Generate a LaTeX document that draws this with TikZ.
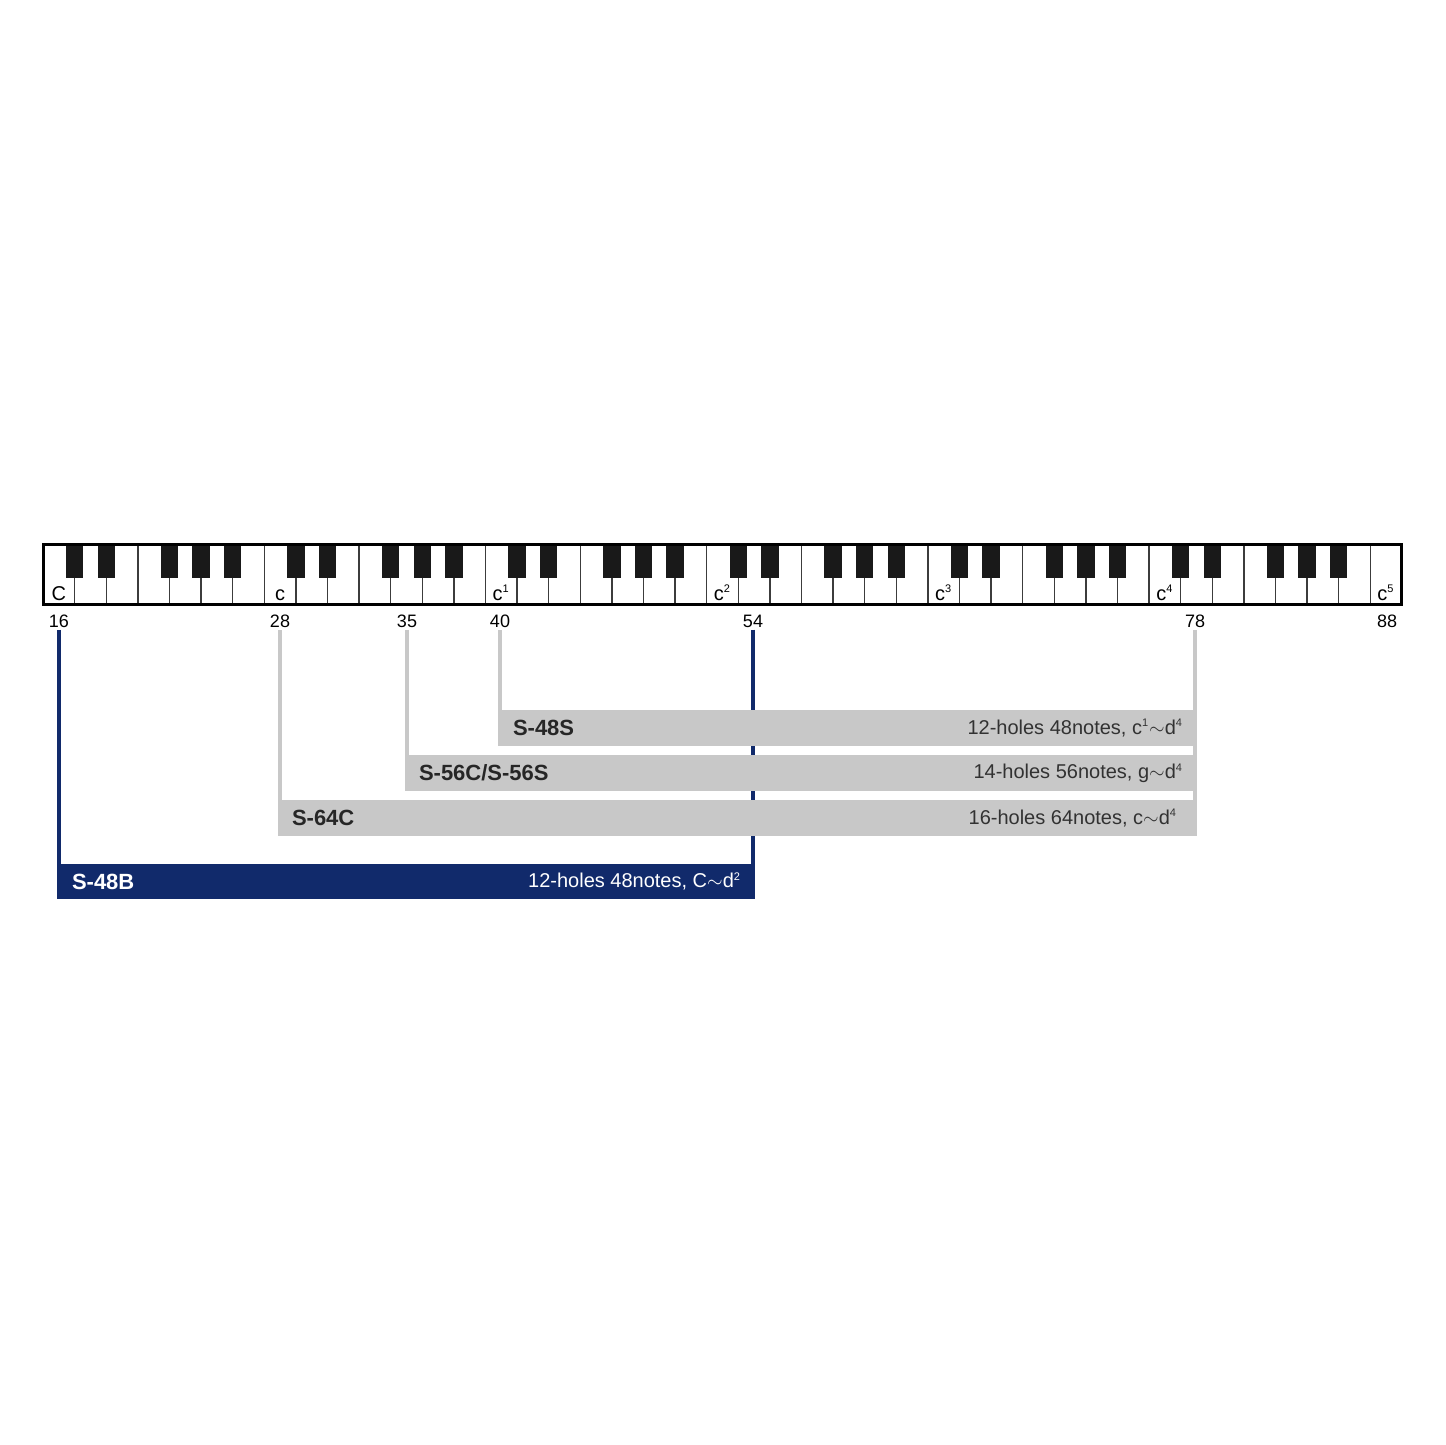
\documentclass[tikz,border=0pt]{standalone}
\usepackage{fontspec}
\setmainfont{Liberation Sans}
\definecolor{barblue}{RGB}{17,42,107}
\definecolor{bargray}{RGB}{200,200,200}
\definecolor{spectext}{RGB}{50,50,50}
\definecolor{keyline}{RGB}{60,60,60}
\newcommand{\hsup}[1]{\textsuperscript{\fontsize{5.5}{6}\selectfont #1}}
\tikzset{
whitekey/.style={draw=keyline, line width=0.7pt, fill=white},
blackkey/.style={fill=black!90},
keylabel/.style={anchor=base, inner sep=0pt, font=\fontsize{10}{11}\selectfont},
num/.style={inner sep=1pt, font=\fontsize{9}{10}\selectfont},
graybar/.style={rectangle, fill=bargray, minimum height=18pt, inner sep=0pt},
bluebar/.style={rectangle, fill=barblue, minimum height=17.5pt, inner sep=0pt},
modelname/.style={anchor=west, inner sep=0pt, font=\fontsize{11}{12}\selectfont\bfseries},
spec/.style={anchor=east, inner sep=0pt, font=\fontsize{10}{12}\selectfont},
grayline/.style={draw=bargray, line width=2pt},
blueline/.style={draw=barblue, line width=2.3pt},
}
\begin{document}
\begin{tikzpicture}[x=0.5pt, y=-0.5pt]
% 1 unit = 1px of the 1445px image
\useasboundingbox (0,0) rectangle (1445,1445);
\def\kw{31.6}
% keyboard C .. c5, 43 white keys
\foreach \i in {0,...,42}
	\draw[whitekey] ({43+\i*\kw},544) rectangle ++(\kw,60);
\foreach \o in {0,...,5}
	\foreach \k in {1,2,4,5,6}
		\fill[blackkey] ({43+(7*\o+\k)*\kw-8.7},544) rectangle ++(17.4,34);
\draw[line width=1.5pt] (43,544) rectangle ({43+43*\kw},604);
\foreach \n/\i/\t in {C/0/C, c/7/c, ci/14/c\hsup{1}, cii/21/c\hsup{2},
	ciii/28/c\hsup{3}, civ/35/c\hsup{4}, cv/42/c\hsup{5}}
	\node[keylabel] (k\n) at ({43+(\i+0.5)*\kw},600) {\t};

% key numbers
\node[num] (n16) at (59,621) {16};
\node[num] (n28) at (280,621) {28};
\node[num] (n35) at (407,621) {35};
\node[num] (n40) at (500,621) {40};
\node[num] (n54) at (753,621) {54};
\node[num] (n78) at (1195,621) {78};
\node[num] (n88) at (1387,621) {88};

% ranges
\draw[blueline] (n54.south) -- (n54.south |- 0,881);
\draw[grayline] (n78.south) -- (n78.south |- 0,818);
\draw[grayline] (n40.south) -- (n40.south |- 0,728);
\draw[grayline] (n35.south) -- (n35.south |- 0,773);
\draw[grayline] (n28.south) -- (n28.south |- 0,818);
\draw[blueline] (n16.south) -- (n16.south |- 0,881);

\node[graybar, minimum width=349.5pt] (s48S) at (847.5,728) {};
	\node[modelname, text=black!85] (t48S) at ([xshift=7.5pt]s48S.west) {S-48S};
	\node[spec, text=spectext] (d48S) at ([xshift=-7pt]s48S.east) {12-holes 48notes, c\hsup{1}$\sim$d\hsup{4}};
\node[graybar, minimum width=396pt] (s56C) at (801,773) {};
	\node[modelname, text=black!85] (t56C) at ([xshift=7pt]s56C.west) {S-56C/S-56S};
	\node[spec, text=spectext] (d56C) at ([xshift=-7pt]s56C.east) {14-holes 56notes, g$\sim$d\hsup{4}};
\node[graybar, minimum width=459.5pt] (s64C) at (737.5,818) {};
	\node[modelname, text=black!85] (t64C) at ([xshift=7pt]s64C.west) {S-64C};
	\node[spec, text=spectext] (d64C) at ([xshift=-10pt]s64C.east) {16-holes 64notes, c$\sim$d\hsup{4}};
\node[bluebar, minimum width=349pt] (s48B) at (406,881.5) {};
	\node[modelname, text=white] (t48B) at ([xshift=7.5pt]s48B.west) {S-48B};
	\node[spec, text=white] (d48B) at ([xshift=-7pt]s48B.east) {12-holes 48notes, C$\sim$d\hsup{2}};
\end{tikzpicture}
\end{document}
